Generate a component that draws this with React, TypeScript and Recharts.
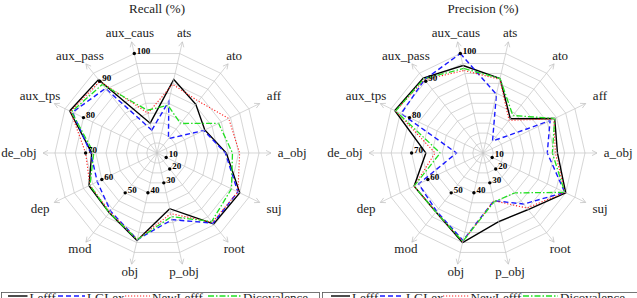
import React from 'react';
import { RadarChart, Radar, PolarGrid, PolarAngleAxis, PolarRadiusAxis } from 'recharts';

// dependency relations, clockwise from the top
const relations = [
  'aux_caus', 'ats', 'ato', 'aff', 'a_obj', 'suj', 'root',
  'p_obj', 'obj', 'mod', 'dep', 'de_obj', 'aux_tps', 'aux_pass',
];

// radial scale labels, one per spoke, spiralling in towards the centre
const scaleMarks = [100, null, null, null, null, 10, 20, 30, 40, 50, 60, 70, 80, 90];
const ringValues = [10, 20, 30, 40, 50, 60, 70, 80, 90, 100];

const recallLefff = [30, 74, 61, 52, 68, 90, 89, 56, 88, 75, 74, 64, 95, 92];
const recallLglex = [23, 52, 18, 51, 67, 88, 88, 67, 87, 73, 65, 65, 92, 81];
const recallNewLefff = [40, 69, 65, 78, 81, 88, 87, 61, 87, 74, 73, 70, 94, 90];
const recallDicovalence = [43, 48, 37, 67, 74, 81, 86, 64, 87, 75, 73, 62, 93, 86];

const precisionLefff = [88, 75, 43, 78, 73, 90, 71, 69, 90, 74, 75, 56, 96, 94];
const precisionLglex = [100, 59, 15, 73, 63, 89, 64, 48, 88, 73, 70, 26, 89, 92];
const precisionNewLefff = [83, 74, 41, 77, 71, 89, 69, 48, 89, 74, 75, 47, 95, 92];
const precisionDicovalence = [85, 75, 47, 78, 68, 89, 50, 49, 89, 74, 75, 42, 95, 93];

type Series = { key: string; name: string; color: string; dash?: string; width: number };

const SERIES: Series[] = [
  { key: 'lefff', name: 'Lefff', color: '#000000', width: 1.4 },
  { key: 'lglex', name: 'LGLex', color: '#1a1aff', dash: '5 3', width: 1.4 },
  { key: 'newlefff', name: 'NewLefff', color: '#ff2020', dash: '1.2 1.8', width: 1.1 },
  { key: 'dicovalence', name: 'Dicovalence', color: '#22e022', dash: '6 2 1.5 2', width: 1.3 },
];

const FONT = '"Liberation Serif", "Times New Roman", serif';
const PANEL_W = 318;
const H = 298;
const CX = 157;
const CY = 153;
const OUTER = 102;
const ARROW_R = 114;
const LABEL_R = 116;
const START = 90 + 360 / 28;
const RAD = Math.PI / 180;
const GRID = '#c4c4c4';

function buildRows(lefff: number[], lglex: number[], newlefff: number[], dico: number[]) {
  return relations.map((axis, i) => ({
    axis,
    lefff: lefff[i],
    lglex: lglex[i],
    newlefff: newlefff[i],
    dicovalence: dico[i],
    mark: scaleMarks[i],
  }));
}

const recallRows = buildRows(recallLefff, recallLglex, recallNewLefff, recallDicovalence);
const precisionRows = buildRows(precisionLefff, precisionLglex, precisionNewLefff, precisionDicovalence);

// spoke with an open arrow head, plus the relation name anchored outside it
function AngleTick(props: any) {
  const { payload } = props;
  const deg = payload.coordinate;
  const cos = Math.cos(deg * RAD);
  const sin = Math.sin(deg * RAD);
  const px = (r: number) => CX + r * cos;
  const py = (r: number) => CY - r * sin;

  const tipX = px(ARROW_R);
  const tipY = py(ARROW_R);
  const bx = px(ARROW_R - 5);
  const by = py(ARROW_R - 5);
  const s = 2.6;

  const label = String(payload.value);
  const hw = (label.length * 5.7) / 2 + 5;
  const hh = 6;
  const t = Math.min(
    Math.abs(cos) > 1e-6 ? hw / Math.abs(cos) : Infinity,
    Math.abs(sin) > 1e-6 ? hh / Math.abs(sin) : Infinity,
  );
  const lx = px(LABEL_R + t);
  const ly = py(LABEL_R + t);

  return (
    <g>
      <line x1={CX} y1={CY} x2={tipX} y2={tipY} stroke={GRID} strokeWidth={0.7} />
      <polyline
        points={`${bx + s * sin},${by + s * cos} ${tipX},${tipY} ${bx - s * sin},${by - s * cos}`}
        fill="none"
        stroke={GRID}
        strokeWidth={0.8}
      />
      <text x={lx} y={ly + 3.5} textAnchor="middle" fontSize={13} fontFamily={FONT} fill="#222">
        {label}
      </text>
    </g>
  );
}

function renderMark(p: any) {
  const row = p.payload?.payload ?? p.payload;
  const v = row?.mark;
  const k = `mark-${p.index}`;
  if (v == null) return <g key={k} />;
  return (
    <g key={k}>
      <circle cx={p.cx} cy={p.cy} r={1.7} fill="#000" />
      <text x={p.cx + 2.5} y={p.cy} fontSize={9} fontWeight="bold" fontFamily={FONT} fill="#000">
        {v}
      </text>
    </g>
  );
}

function RadarPanel({ title, rows, left }: { title: string; rows: any[]; left: number }) {
  return (
    <div style={{ position: 'absolute', left, top: 0, width: PANEL_W, height: H }}>
      <RadarChart
        width={PANEL_W}
        height={H}
        data={rows}
        cx={CX}
        cy={CY}
        outerRadius={OUTER}
        startAngle={START}
        endAngle={START - 360}
        margin={{ top: 0, right: 0, bottom: 0, left: 0 }}
      >
        <PolarGrid
          gridType="polygon"
          radialLines={false}
          polarRadius={ringValues.map((v) => (v / 100) * OUTER)}
          stroke={GRID}
          strokeWidth={0.7}
        />
        <PolarRadiusAxis domain={[0, 100]} tickCount={11} tick={false} axisLine={false} />
        <PolarAngleAxis dataKey="axis" tick={(p: any) => <AngleTick {...p} />} axisLine={false} tickLine={false} />
        {SERIES.map((s) => (
          <Radar
            key={s.key}
            name={s.name}
            dataKey={s.key}
            stroke={s.color}
            strokeWidth={s.width}
            strokeDasharray={s.dash}
            fill="none"
            fillOpacity={0}
            dot={false}
            isAnimationActive={false}
          />
        ))}
        <Radar dataKey="mark" stroke="none" fill="none" fillOpacity={0} dot={renderMark} isAnimationActive={false} />
      </RadarChart>
      <div
        style={{
          position: 'absolute',
          top: 1,
          left: CX - 70,
          width: 140,
          textAlign: 'center',
          fontSize: 13,
          lineHeight: '16px',
          color: '#222',
        }}
      >
        {title}
      </div>
    </div>
  );
}

// legend entries: where each sample line runs and where its text starts
const legendLeft = [
  { x1: 8, x2: 27.5, tx: 29.5 },
  { x1: 58, x2: 85, tx: 87 },
  { x1: 125, x2: 150, tx: 152 },
  { x1: 208, x2: 241, tx: 243 },
];
const legendRight = [
  { x1: 331, x2: 350, tx: 352 },
  { x1: 380, x2: 404, tx: 406 },
  { x1: 443, x2: 468.5, tx: 470.5 },
  { x1: 523, x2: 558, tx: 560 },
];

function LegendBox({ x, w, items }: { x: number; w: number; items: { x1: number; x2: number; tx: number }[] }) {
  return (
    <g>
      <rect x={x} y={292.5} width={w} height={20} fill="#fff" stroke="#555" strokeWidth={0.8} />
      {SERIES.map((s, i) => (
        <g key={s.key}>
          <line
            x1={items[i].x1}
            x2={items[i].x2}
            y1={296}
            y2={296}
            stroke={s.color}
            strokeWidth={s.width}
            strokeDasharray={s.dash}
          />
          <text x={items[i].tx} y={302} fontSize={13} fontFamily={FONT} fill="#222">
            {s.name}
          </text>
        </g>
      ))}
    </g>
  );
}

export default function App() {
  return (
    <div
      style={{
        position: 'fixed',
        left: 0,
        top: 0,
        width: 637,
        height: H,
        overflow: 'hidden',
        background: '#fff',
        fontFamily: FONT,
      }}
    >
      <RadarPanel title="Recall (%)" rows={recallRows} left={0} />
      <RadarPanel title="Precision (%)" rows={precisionRows} left={326} />
      <svg width={637} height={H} style={{ position: 'absolute', left: 0, top: 0, pointerEvents: 'none' }}>
        <LegendBox x={1.5} w={318} items={legendLeft} />
        <LegendBox x={322.5} w={320} items={legendRight} />
      </svg>
    </div>
  );
}
